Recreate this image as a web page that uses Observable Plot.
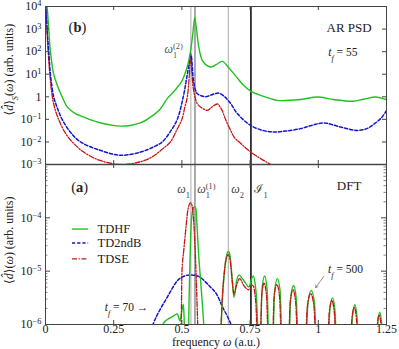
<!DOCTYPE html>
<html><head><meta charset="utf-8">
<script src="https://cdn.jsdelivr.net/npm/d3@7"></script>
<script src="https://cdn.jsdelivr.net/npm/@observablehq/plot@0.6"></script>
<style>
body{margin:0;background:#fff}
#wrap{position:relative;width:399px;height:349px;overflow:hidden;background:#fff}
#wrap svg{position:absolute;left:0}
#wrap svg text{font-family:'Liberation Serif','DejaVu Serif',serif !important}
</style></head><body><div id="wrap"></div>
<script>
// ---------- data (y given as log10 of the value) ----------
// (b) AR PSD panel
const psdX_TDHF = [0.003,0.006,0.012,0.018,0.03,0.045,0.061,0.08,0.11,0.14,0.16,0.2,0.24,0.275,0.31,0.348,0.385,0.42,0.446,0.475,0.50,0.52,0.532,0.540,0.547,0.554,0.562,0.575,0.59,0.605,0.625,0.648,0.671,0.70,0.725,0.752,0.789,0.825,0.85,0.935,0.997,1.056,1.125,1.17,1.21,1.25];
const psdE_TDHF = [4.6,4.0,3.0,2.0,1.0,0.45,0.0,-0.46,-0.75,-0.9,-1.0,-1.15,-1.25,-1.30,-1.27,-1.16,-0.9,-0.55,-0.08,0.3,0.7,1.35,2.05,2.8,3.5,2.94,2.2,1.6,1.4,1.32,1.42,1.57,1.3,0.88,0.52,0.25,0.06,-0.08,-0.16,-0.12,-0.01,-0.12,-0.2,-0.1,-0.01,-0.13];
const psdX_TD2ndB = [0.002,0.006,0.012,0.018,0.03,0.045,0.061,0.09,0.128,0.2,0.275,0.348,0.40,0.428,0.46,0.483,0.505,0.52,0.533,0.544,0.556,0.57,0.587,0.605,0.62,0.636,0.655,0.679,0.703,0.752,0.80,0.838,0.88,0.935,0.98,1.021,1.082,1.143,1.18,1.205,1.23,1.25];
const psdE_TD2ndB = [4.3,3.0,2.0,1.0,0.0,-0.55,-1.0,-1.55,-2.0,-2.37,-2.59,-2.45,-2.2,-2.0,-1.5,-1.0,0.0,1.0,1.85,0.59,0.14,0.05,0.0,0.07,0.13,0.16,0.02,-0.3,-0.74,-1.27,-1.5,-1.56,-1.52,-1.41,-1.25,-1.16,-1.34,-1.49,-1.4,-1.2,-0.95,-0.62];
const psdX_TDSE = [0.002,0.006,0.016,0.025,0.035,0.048,0.07,0.098,0.14,0.2,0.275,0.348,0.39,0.425,0.458,0.48,0.50,0.51,0.52,0.527,0.532,0.537,0.543,0.556,0.569,0.593,0.61,0.63,0.645,0.66,0.679,0.691,0.715,0.752,0.79,0.825,0.86];
const psdE_TDSE = [4.3,2.8,1.0,0.0,-0.55,-1.0,-1.55,-2.0,-2.45,-2.82,-3.0,-2.88,-2.67,-2.35,-2.0,-1.5,-1.0,-0.5,0.0,0.9,1.95,1.0,0.28,-0.3,-0.46,-0.6,-0.45,-0.32,-0.55,-1.0,-1.5,-1.78,-2.06,-2.45,-2.75,-3.0,-3.3];

// (a) DFT panel
const dftX_TDHF = [0.40,0.43,0.455,0.47,0.483,0.493,0.500,0.505,0.508,0.512,0.52,
  0.522,0.526,0.530,0.534,0.540,0.546,0.551,0.556,0.562,0.569,0.575,0.580,0.588,
  0.62,0.640,0.650,0.657,0.664,0.670,0.676,0.682,0.691,0.700,0.709,0.720,0.733,0.746,0.755,0.762,0.768,0.774,0.779,0.784,
  0.785,0.794,0.803,0.812,0.822,
  0.830,0.840,0.850,0.860,0.870,
  0.889,0.899,0.909,0.919,0.930,
  0.950,0.962,0.974,0.986,0.997,
  1.032,1.042,1.052,1.061,1.071,
  1.116,1.125,1.134,1.142,1.151,
  1.210,1.218,1.225,1.232,1.240,1.25];
const dftE_TDHF = [-7,-6.0,-5.88,-5.84,-5.80,-5.93,-5.75,-5.62,-5.85,-6.6,-7,
  -7,-5.6,-4.74,-4.11,-3.85,-3.79,-3.82,-4.2,-4.74,-5.2,-5.62,-6.0,-7,
  -7,-6.4,-5.4,-4.95,-4.70,-4.63,-4.70,-5.0,-5.49,-5.2,-5.07,-5.13,-5.22,-5.30,-5.15,-5.09,-5.22,-5.55,-6.2,-7,
  -6.9,-5.32,-5.09,-5.32,-6.9,
  -6.9,-5.37,-5.14,-5.37,-6.9,
  -6.9,-5.5,-5.27,-5.5,-6.9,
  -6.9,-5.6,-5.36,-5.6,-6.9,
  -6.9,-5.74,-5.50,-5.74,-6.9,
  -6.9,-5.86,-5.63,-5.86,-6.9,
  -6.9,-5.98,-5.77,-5.98,-6.9,-7];
const dftX_TDSE = [0.40,0.494,0.4985,0.500,0.507,0.514,0.522,0.532,0.538,0.543,0.547,0.551,0.554,0.558,0.565,
  0.63,0.640,0.648,0.656,0.663,0.670,0.677,0.685,0.691,0.700,0.712,0.727,0.746,0.760,0.767,0.773,0.779,
  0.784,0.793,0.801,0.810,0.820,
  0.829,0.838,0.848,0.858,0.868,
  0.888,0.897,0.907,0.917,0.928,
  0.948,0.960,0.972,0.984,0.995,
  1.030,1.040,1.050,1.059,1.069,
  1.114,1.123,1.132,1.140,1.149,
  1.208,1.216,1.223,1.230,1.238,1.25];
const dftE_TDSE = [-7,-7,-5.6,-5.05,-4.6,-4.23,-3.85,-3.72,-3.79,-4.05,-4.42,-4.9,-5.36,-6.0,-7,
  -7,-6.4,-5.5,-5.0,-4.76,-4.69,-4.80,-5.21,-5.43,-5.27,-5.14,-5.27,-5.35,-5.26,-5.4,-5.8,-7,
  -6.9,-5.45,-5.22,-5.45,-6.9,
  -6.9,-5.48,-5.25,-5.48,-6.9,
  -6.9,-5.58,-5.35,-5.58,-6.9,
  -6.9,-5.66,-5.42,-5.66,-6.9,
  -6.9,-5.79,-5.55,-5.79,-6.9,
  -6.9,-5.91,-5.68,-5.91,-6.9,
  -6.9,-6.03,-5.82,-6.03,-6.9,-7];
const dftX_TD2ndB = [0.37,0.394,0.42,0.446,0.465,0.483,0.505,0.53,0.55,0.569,0.59,0.605,0.627,0.648,0.68,0.70];
const dftE_TD2ndB = [-6.4,-6.0,-5.72,-5.49,-5.32,-5.18,-5.1,-5.07,-5.08,-5.12,-5.22,-5.3,-5.43,-5.66,-6.0,-6.3];

// reference frequencies (vertical lines)
const refNames = ["ω1", "ω1(1)", "ω2", "I1"];
const refFreqs = [0.533, 0.548, 0.670, 0.753];

// ticks
const xTickVals = [0, 0.25, 0.5, 0.75, 1, 1.25];
const xTickLabels = ["0", "0.25", "0.5", "0.75", "1", "1.25"];
const topYTicks = [1e4, 1e3, 1e2, 1e1, 1, 1e-1, 1e-2, 1e-3];
const topYLabels = ["10^{4}", "10^{3}", "10^{2}", "10^{1}", "1", "10^{−1}", "10^{−2}", "10^{−3}"];
const botYTicks = [1e-4, 1e-5, 1e-6];
const botYLabels = ["10^{−4}", "10^{−5}", "10^{−6}"];
const seriesNames = ["TDHF", "TD2ndB", "TDSE"];

// ---------- helpers ----------
const rows = (xs, es) => xs.map((x, i) => ({x, y: Math.pow(10, es[i])}));
const FONT = "'Liberation Serif', 'DejaVu Serif', serif";
const GREEN = "#21c021", BLUE = "#1515d0", RED = "#c81414";
const W = 399, ML = 45, MR = 13;
const FW = W - ML - MR;
const topH = 166, topMT = 6, topMB = 2, topFH = topH - topMT - topMB;
const botH = 187, botMT = 2, botMB = 25, botFH = botH - botMT - botMB;
const minorTicks = [];
for (let e = -6; e < -3; e++) for (let k = 2; k <= 9; k++) minorTicks.push(k * Math.pow(10, e));

const styleLine = {
  TDHF: {stroke: GREEN, strokeWidth: 1.4},
  TD2ndB: {stroke: BLUE, strokeWidth: 1.5, strokeDasharray: "3.2,2"},
  TDSE: {stroke: RED, strokeWidth: 1.3, strokeDasharray: "5,1.6,1.2,1.6"}
};

function refRules() {
  return [
    Plot.ruleX([refFreqs[0]], {stroke: "#aaa", strokeWidth: 1}),
    Plot.ruleX([refFreqs[1]], {stroke: "#555", strokeWidth: 1}),
    Plot.ruleX([refFreqs[2]], {stroke: "#aaa", strokeWidth: 1}),
    Plot.ruleX([refFreqs[3]], {stroke: "#111", strokeWidth: 1.6})
  ];
}
function xInTicks(fh) {
  const inner = xTickVals.slice(1, -1);
  return [
    Plot.ruleX(inner, {stroke: "#444", insetBottom: fh - 4}),
    Plot.ruleX(inner, {stroke: "#444", insetTop: fh - 4})
  ];
}

// ---------- top panel (b) ----------
const topPlot = Plot.plot({
  width: W, height: topH, marginTop: topMT, marginBottom: topMB, marginLeft: ML, marginRight: MR,
  x: {domain: [0, 1.25], axis: null},
  y: {type: "log", domain: [1e-3, 1e4], axis: null},
  style: {fontFamily: FONT, fontSize: "12px", color: "#222", background: "transparent", overflow: "visible"},
  marks: [
    ...refRules(),
    Plot.line(rows(psdX_TDSE, psdE_TDSE), {x: "x", y: "y", curve: "catmull-rom", clip: true, ...styleLine.TDSE}),
    Plot.line(rows(psdX_TD2ndB, psdE_TD2ndB), {x: "x", y: "y", curve: "catmull-rom", clip: true, ...styleLine.TD2ndB}),
    Plot.line(rows(psdX_TDHF, psdE_TDHF), {x: "x", y: "y", curve: "catmull-rom", clip: true, ...styleLine.TDHF}),
    Plot.ruleY(topYTicks, {stroke: "#444", insetRight: FW - 4}),
    Plot.ruleY(topYTicks, {stroke: "#444", insetLeft: FW - 4}),
    ...xInTicks(topFH),
    Plot.frame({stroke: "#444", strokeWidth: 1}),
    Plot.axisY({ticks: topYTicks, tickFormat: d => topYLabels[topYTicks.indexOf(d)], tickSize: 0, tickPadding: 4, label: null, fontSize: 12}),
    Plot.text(["⟨*d̂*⟩_{*S*}(*ω*) (arb. units)"], {x: [-0.135], y: [Math.pow(10, 1.2)], rotate: -90, textAnchor: "middle", fontSize: 12}),
    Plot.text(["(#b#)"], {x: [0.117], y: [Math.pow(10, 3.07)], fontSize: 14.5}),
    Plot.text(["AR PSD"], {x: [1.113], y: [Math.pow(10, 3.07)], fontSize: 13}),
    Plot.text(["*t*_{*f*} = 55"], {x: [1.09], y: [Math.pow(10, 1.96)], fontSize: 11.5}),
    Plot.text(["*ω*_{1}^{(2)}"], {x: [0.47], y: [Math.pow(10, 2.1)], fontSize: 12, fill: "#555"})
  ]
});

// ---------- bottom panel (a) ----------
const legendY = [Math.pow(10, -4.21), Math.pow(10, -4.47), Math.pow(10, -4.77)];
const botPlot = Plot.plot({
  width: W, height: botH, marginTop: botMT, marginBottom: botMB, marginLeft: ML, marginRight: MR,
  x: {domain: [0, 1.25], axis: null},
  y: {type: "log", domain: [1e-6, 1e-3], axis: null},
  style: {fontFamily: FONT, fontSize: "12px", color: "#222", background: "transparent", overflow: "visible"},
  marks: [
    ...refRules(),
    Plot.line(rows(dftX_TD2ndB, dftE_TD2ndB), {x: "x", y: "y", curve: "monotone-x", clip: true, ...styleLine.TD2ndB}),
    Plot.line(rows(dftX_TDHF, dftE_TDHF), {x: "x", y: "y", curve: "monotone-x", clip: true, ...styleLine.TDHF}),
    Plot.line(rows(dftX_TDSE, dftE_TDSE), {x: "x", y: "y", curve: "monotone-x", clip: true, ...styleLine.TDSE}),
    Plot.ruleY(botYTicks, {stroke: "#444", insetRight: FW - 5}),
    Plot.ruleY(botYTicks, {stroke: "#444", insetLeft: FW - 5}),
    Plot.ruleY(minorTicks, {stroke: "#666", strokeWidth: 0.8, insetRight: FW - 2.5}),
    Plot.ruleY(minorTicks, {stroke: "#666", strokeWidth: 0.8, insetLeft: FW - 2.5}),
    ...xInTicks(botFH),
    Plot.frame({stroke: "#444", strokeWidth: 1}),
    Plot.ruleY([1e-3], {stroke: "#555", strokeWidth: 1.5}),
    Plot.axisY({ticks: botYTicks, tickFormat: d => botYLabels[botYTicks.indexOf(d)], tickSize: 0, tickPadding: 4, label: null, fontSize: 12}),
    Plot.axisX({ticks: xTickVals, tickFormat: d => xTickLabels[xTickVals.indexOf(d)], tickSize: 0, tickPadding: 0, label: null, fontSize: 12}),
    Plot.text(["frequency *ω* (a.u.)"], {frameAnchor: "bottom", dy: 21, fontSize: 12}),
    Plot.text(["⟨*d̂*⟩(*ω*) (arb. units)"], {x: [-0.135], y: [Math.pow(10, -4.42)], rotate: -90, textAnchor: "middle", fontSize: 12}),
    Plot.text(["(#a#)"], {x: [0.125], y: [Math.pow(10, -3.42)], fontSize: 14.5}),
    Plot.text(["DFT"], {x: [1.113], y: [Math.pow(10, -3.40)], fontSize: 13}),
    Plot.text(["*ω*_{1}", "*ω*_{1}^{(1)}", "*ω*_{2}", "ℐ_{1}"], {x: [0.506, 0.59, 0.704, 0.79], y: Array(4).fill(Math.pow(10, -3.47)), fontSize: 12, fill: "#444"}),
    // legend
    Plot.ruleY([legendY[0]], {x1: 0.099, x2: 0.158, ...styleLine.TDHF}),
    Plot.ruleY([legendY[1]], {x1: 0.099, x2: 0.158, ...styleLine.TD2ndB}),
    Plot.ruleY([legendY[2]], {x1: 0.099, x2: 0.158, ...styleLine.TDSE}),
    Plot.text(seriesNames, {x: [0.191, 0.191, 0.191], y: legendY, textAnchor: "start", fontSize: 12.5}),
    Plot.text(["*t*_{*f*} = 70 →"], {x: [0.297], y: [Math.pow(10, -5.68)], fontSize: 11.5}),
    Plot.text(["*t*_{*f*} = 500"], {x: [1.10], y: [Math.pow(10, -4.97)], fontSize: 11.5}),
    Plot.arrow([0], {x1: 1.020, y1: Math.pow(10, -5.10), x2: 0.990, y2: Math.pow(10, -5.31), stroke: "#777", strokeWidth: 0.8, headLength: 5})
  ]
});

// ---------- TeX-ish markup to tspans ----------
function parse(s) {
  const out = []; let it = false, bf = false, buf = "";
  const flush = () => { if (buf) out.push({k: "n", s: buf, it, bf}); buf = ""; };
  for (let i = 0; i < s.length; i++) {
    const c = s[i];
    if (c === "*") { flush(); it = !it; continue; }
    if (c === "#") { flush(); bf = !bf; continue; }
    if (c === "^" || c === "_") {
      flush();
      let content;
      if (s[i + 1] === "{") { const j = s.indexOf("}", i + 2); content = s.slice(i + 2, j); i = j; }
      else { content = s[i + 1]; i += 1; }
      out.push({k: c === "^" ? "sup" : "sub", s: content.replace(/\*/g, ""), it: content.includes("*") || it, bf});
      continue;
    }
    buf += c;
  }
  flush();
  return out;
}
function texify(root) {
  root.querySelectorAll("text").forEach(t => {
    t.style.fontFamily = FONT;
    if (t.children.length) return;
    const s = t.textContent;
    if (!/[\^_*#]/.test(s)) return;
    const segs = parse(s);
    t.textContent = "";
    let prev = null;
    for (const g of segs) {
      const ts = document.createElementNS("http://www.w3.org/2000/svg", "tspan");
      ts.textContent = g.s;
      if (g.it) ts.setAttribute("font-style", "italic");
      if (g.bf) ts.setAttribute("font-weight", "bold");
      if (g.k === "sup") { ts.setAttribute("baseline-shift", "super"); ts.style.fontSize = "0.7em"; }
      if (g.k === "sub") { ts.setAttribute("baseline-shift", "sub"); ts.style.fontSize = "0.7em"; }
      if (g.k === "sup" && prev && prev.k === "sub") ts.setAttribute("dx", (-0.5 * prev.s.length) + "em");
      t.appendChild(ts);
      prev = g;
    }
  });
}

const wrap = document.getElementById("wrap");
texify(topPlot); texify(botPlot);
botPlot.style.top = (topH - topMB - botMT) + "px";
topPlot.style.top = "0px";
wrap.appendChild(botPlot);
wrap.appendChild(topPlot);
</script></body></html>
